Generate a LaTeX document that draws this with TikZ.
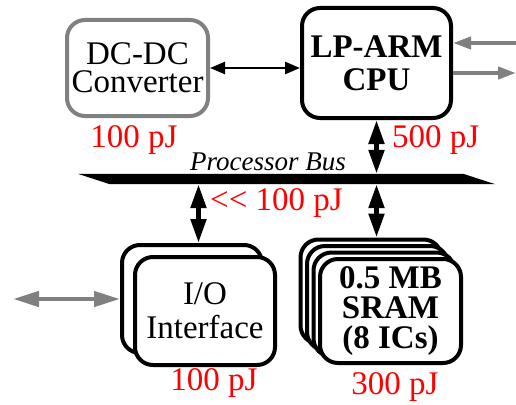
\documentclass[tikz,border=0pt]{standalone}
\usepackage{fontspec}
\setmainfont{Liberation Serif}
\usetikzlibrary{arrows.meta,calc}
\definecolor{lblred}{RGB}{255,0,0}
\definecolor{linegray}{RGB}{128,128,128}
\begin{document}
\begin{tikzpicture}[x=1pt,y=-1pt,
  box/.style={draw, line width=4pt, rounded corners=18pt, fill=white, align=center, inner sep=0pt},
  cost/.style={text=lblred, font=\fontsize{33}{33}\selectfont, inner sep=0pt, anchor=base},
  bigarrow/.style={line width=5pt, {Triangle[length=24pt,width=15pt]}-{Triangle[length=24pt,width=15pt]}},
  smallarrow/.style={line width=2.5pt, {Triangle[length=15pt,width=12pt]}-{Triangle[length=15pt,width=12pt]}},
  grayarrow/.style={draw=linegray, line width=4pt, -{Triangle[length=18pt,width=12pt]}, color=linegray},
  graybiarrow/.style={draw=linegray, line width=4.5pt, {Triangle[length=26pt,width=15pt]}-{Triangle[length=26pt,width=15pt]}, color=linegray}]
\useasboundingbox (0,0) rectangle (516,404);

% DC-DC converter
\node[box, draw=linegray, minimum width=141pt, minimum height=96pt,
      font=\fontsize{33}{28}\selectfont] (dcdc) at (137.5,68) {DC-DC\\Converter};
% CPU
\node[box, minimum width=149pt, minimum height=110pt,
      font=\fontsize{33}{33}\selectfont\bfseries] (cpu) at (376.5,63) {LP-ARM\\CPU};

% I/O interface stack
\node[box, minimum width=140pt, minimum height=108pt] (io1) at (192,299) {};
\node[box, minimum width=140pt, minimum height=108pt,
      font=\fontsize{33}{34}\selectfont] (io2) at (205,311) {I/O\\Interface};

% SRAM stack
\node[box, minimum width=141pt, minimum height=104pt] (sram1) at (371,291.5) {};
\node[box, minimum width=141pt, minimum height=104pt] (sram2) at (377.5,298) {};
\node[box, minimum width=141pt, minimum height=104pt] (sram3) at (384,304.5) {};
\node[box, minimum width=141pt, minimum height=104pt,
      font=\fontsize{33}{30}\selectfont\bfseries] (sram4) at (390.5,311) {0.5 MB\\SRAM\\(8 ICs)};

% Processor bus
\node[inner sep=0pt, minimum width=417pt, minimum height=10pt] (bus) at (286.5,179) {};
\fill (bus.north west) -- ([xshift=-32pt]bus.north east) -- (bus.south east)
      -- ([xshift=32pt]bus.south west) -- cycle;
\node[font=\fontsize{27}{27}\selectfont\itshape, anchor=base west, inner sep=0pt] (buslbl) at (190,170) {Processor Bus};

% connectors
\draw[smallarrow] (dcdc.east) -- (dcdc.east -| cpu.west);
\draw[bigarrow] (cpu.south) -- (cpu.south |- bus.north);
\draw[bigarrow] (bus.south -| cpu.south) -- (cpu.south |- sram1.north);
\coordinate (iomid) at ($(io1.north)!0.5!(io2.north)$);
\draw[bigarrow] (bus.south -| iomid) -- (iomid |- io1.north);

\coordinate (cpuin) at (516,43);
\coordinate (cpuout) at (516,73);
\coordinate (ioext) at (13,299);
\draw[grayarrow] (cpuin) -- (cpuin -| cpu.east);
\draw[grayarrow] (cpuout -| cpu.east) -- (cpuout);
\draw[graybiarrow] (ioext) -- (io1.west);

% energy labels
\node[cost] (c1) at (134,147) {100 pJ};
\node[cost, anchor=base west] (c2) at (392,147) {500 pJ};
\node[cost, anchor=base west] (c3) at (210,210) {{<}{<} 100 pJ};
\node[cost] (c4) at (214,390) {100 pJ};
\node[cost] (c5) at (395,394) {300 pJ};
\end{tikzpicture}
\end{document}
